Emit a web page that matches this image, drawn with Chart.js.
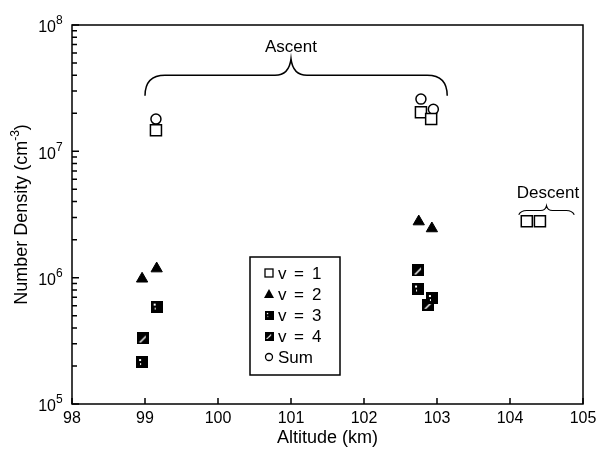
<!DOCTYPE html>
<html>
<head>
<meta charset="utf-8">
<script src="https://cdn.jsdelivr.net/npm/chart.js@4/dist/chart.umd.min.js"></script>
<style>
  html, body { margin: 0; padding: 0; background: #fff; }
</style>
</head>
<body>
<canvas id="grafico" width="615" height="457"></canvas>
<script>
// valores (altitud en km, densidad en cm^-3)
const v1Alt = [99.15, 102.78, 102.92, 104.23, 104.41];
const v1Den = [1.47e7, 2.04e7, 1.8e7, 2.8e6, 2.8e6];
const v2Alt = [98.96, 99.16, 102.75, 102.93];
const v2Den = [9.8e5, 1.18e6, 2.78e6, 2.45e6];
const v3Alt = [99.16, 98.96, 102.74, 102.93];
const v3Den = [5.9e5, 2.15e5, 8.2e5, 6.9e5];
const v4Alt = [98.97, 102.74, 102.88];
const v4Den = [3.3e5, 1.14e6, 6.1e5];
const sumAlt = [99.15, 102.78, 102.95];
const sumDen = [1.8e7, 2.59e7, 2.15e7];

const xTicks = [98, 99, 100, 101, 102, 103, 104, 105];
const yExponents = [5, 6, 7, 8];
const leyenda = [['v', '=', '1'], ['v', '=', '2'], ['v', '=', '3'], ['v', '=', '4'], ['Sum']];

const FUENTE = '"Liberation Sans", Arial, sans-serif';

function puntos(xs, ys) {
  return xs.map((x, i) => ({ x: x, y: ys[i] }));
}

// marcas rellenas para v = 3 y v = 4
function marca(tipo) {
  const c = document.createElement('canvas');
  c.width = 12; c.height = 12;
  const g = c.getContext('2d');
  g.fillStyle = '#000';
  g.fillRect(0, 0, 12, 12);
  g.fillStyle = '#fff';
  if (tipo === 3) {
    g.fillRect(3, 3, 2, 2);
    g.fillRect(4, 7, 1, 2);
  } else {
    g.beginPath();
    g.moveTo(2, 10); g.lineTo(9, 3); g.lineTo(9, 5); g.lineTo(4, 10);
    g.closePath();
    g.fill();
  }
  return c;
}
const img3 = marca(3);
const img4 = marca(4);

const decoracion = {
  id: 'decoracion',
  beforeDatasetsDraw(chart) {
    const { ctx, chartArea: a, scales: { x, y } } = chart;
    ctx.save();
    ctx.strokeStyle = '#000';
    ctx.lineWidth = 1.5;
    ctx.strokeRect(a.left, a.top, a.right - a.left, a.bottom - a.top);

    ctx.beginPath();
    xTicks.forEach(v => {
      const px = x.getPixelForValue(v);
      ctx.moveTo(px, a.bottom);
      ctx.lineTo(px, a.bottom - 6);
    });
    yExponents.forEach(e => {
      for (let m = 1; m < 10; m++) {
        const val = m * Math.pow(10, e);
        if (val > 1e8) break;
        const py = y.getPixelForValue(val);
        ctx.moveTo(a.left, py);
        ctx.lineTo(a.left + (m === 1 ? 7 : 5), py);
      }
    });
    ctx.stroke();

    // etiquetas del eje y
    ctx.fillStyle = '#000';
    ctx.textBaseline = 'middle';
    yExponents.forEach(e => {
      const py = y.getPixelForValue(Math.pow(10, e));
      ctx.font = '16px ' + FUENTE;
      ctx.textAlign = 'right';
      ctx.fillText('10', 56, py + 3);
      ctx.font = '12px ' + FUENTE;
      ctx.textAlign = 'left';
      ctx.fillText(String(e), 56, py - 4);
    });

    // titulos
    ctx.font = '18px ' + FUENTE;
    ctx.textAlign = 'center';
    ctx.fillText('Altitude (km)', (a.left + a.right) / 2, 438);
    ctx.save();
    ctx.translate(22, (a.top + a.bottom) / 2);
    ctx.rotate(-Math.PI / 2);
    const base = 'Number Density (cm';
    ctx.font = '18px ' + FUENTE;
    const w = ctx.measureText(base).width;
    ctx.font = '12px ' + FUENTE;
    const w2 = ctx.measureText('-3').width;
    ctx.font = '18px ' + FUENTE;
    const w3 = ctx.measureText(')').width;
    const x0 = -(w + w2 + w3) / 2;
    ctx.textAlign = 'left';
    ctx.fillText(base, x0, 0);
    ctx.font = '12px ' + FUENTE;
    ctx.fillText('-3', x0 + w, -6);
    ctx.font = '18px ' + FUENTE;
    ctx.fillText(')', x0 + w + w2, 0);
    ctx.restore();
    ctx.restore();
  },
  afterDraw(chart) {
    const { ctx, scales: { x, y } } = chart;
    ctx.save();
    ctx.strokeStyle = '#000';
    ctx.fillStyle = '#000';
    ctx.lineWidth = 1.5;

    // llave de subida
    let L = x.getPixelForValue(99.0), R = x.getPixelForValue(103.14), C = x.getPixelForValue(101.0);
    let yE = y.getPixelForValue(2.75e7), yH = y.getPixelForValue(4.0e7), yT = y.getPixelForValue(5.4e7);
    ctx.beginPath();
    ctx.moveTo(L, yE);
    ctx.quadraticCurveTo(L, yH, L + 20, yH);
    ctx.lineTo(C - 16, yH);
    ctx.quadraticCurveTo(C - 2, yH, C, yT);
    ctx.quadraticCurveTo(C + 2, yH, C + 16, yH);
    ctx.lineTo(R - 20, yH);
    ctx.quadraticCurveTo(R, yH, R, yE);
    ctx.stroke();

    // llave de bajada
    L = x.getPixelForValue(104.12); R = x.getPixelForValue(104.88); C = x.getPixelForValue(104.5);
    yE = y.getPixelForValue(3.15e6); yH = y.getPixelForValue(3.4e6); yT = y.getPixelForValue(3.7e6);
    ctx.lineWidth = 1.2;
    ctx.beginPath();
    ctx.moveTo(L, yE);
    ctx.quadraticCurveTo(L + 2, yH, L + 8, yH);
    ctx.lineTo(C - 6, yH);
    ctx.quadraticCurveTo(C - 1, yH, C, yT);
    ctx.quadraticCurveTo(C + 1, yH, C + 6, yH);
    ctx.lineTo(R - 8, yH);
    ctx.quadraticCurveTo(R - 2, yH, R, yE);
    ctx.stroke();

    ctx.font = '17px ' + FUENTE;
    ctx.textAlign = 'center';
    ctx.textBaseline = 'middle';
    ctx.fillText('Ascent', x.getPixelForValue(101.0), 47);
    ctx.fillText('Descent', x.getPixelForValue(104.52), 193);

    // leyenda
    const bx = 250, by = 257, bw = 90, bh = 118;
    ctx.lineWidth = 1.5;
    ctx.fillStyle = '#fff';
    ctx.fillRect(bx, by, bw, bh);
    ctx.strokeRect(bx, by, bw, bh);
    ctx.fillStyle = '#000';
    ctx.font = '17px ' + FUENTE;
    ctx.textAlign = 'left';
    leyenda.forEach((t, i) => {
      const cy = by + 16 + i * 21;
      const cx = bx + 19;
      ctx.lineWidth = 1.3;
      if (i === 0) {
        ctx.strokeRect(cx - 4, cy - 4, 8, 8);
      } else if (i === 1) {
        ctx.beginPath();
        ctx.moveTo(cx, cy - 5); ctx.lineTo(cx + 5, cy + 4); ctx.lineTo(cx - 5, cy + 4);
        ctx.closePath();
        ctx.fill();
      } else if (i === 2) {
        ctx.drawImage(img3, cx - 4.5, cy - 4.5, 9, 9);
      } else if (i === 3) {
        ctx.drawImage(img4, cx - 4.5, cy - 4.5, 9, 9);
      } else {
        ctx.beginPath();
        ctx.arc(cx, cy, 3.5, 0, Math.PI * 2);
        ctx.stroke();
      }
      if (t.length === 3) {
        ctx.fillText(t[0], bx + 28, cy + 1);
        ctx.fillText(t[1], bx + 44, cy + 1);
        ctx.fillText(t[2], bx + 62, cy + 1);
      } else {
        ctx.fillText(t[0], bx + 28, cy + 1);
      }
    });
    ctx.restore();
  }
};

const ctx = document.getElementById('grafico').getContext('2d');
new Chart(ctx, {
  type: 'scatter',
  data: {
    datasets: [
      { label: 'v = 1', data: puntos(v1Alt, v1Den), pointStyle: 'rect', pointRadius: 7.8,
        borderColor: '#000', backgroundColor: '#fff', borderWidth: 1.5 },
      { label: 'v = 2', data: puntos(v2Alt, v2Den), pointStyle: 'triangle', pointRadius: 6.5,
        borderColor: '#000', backgroundColor: '#000', borderWidth: 1 },
      { label: 'v = 3', data: puntos(v3Alt, v3Den), pointStyle: img3 },
      { label: 'v = 4', data: puntos(v4Alt, v4Den), pointStyle: img4 },
      { label: 'Sum', data: puntos(sumAlt, sumDen), pointStyle: 'circle', pointRadius: 5,
        borderColor: '#000', backgroundColor: '#fff', borderWidth: 1.5 }
    ]
  },
  options: {
    responsive: false,
    animation: false,
    layout: { padding: { top: 25, right: 32, left: 0, bottom: 0 } },
    plugins: {
      legend: { display: false },
      tooltip: { enabled: false }
    },
    scales: {
      x: {
        type: 'linear',
        min: 98,
        max: 105,
        grid: { display: false, drawTicks: false },
        border: { display: false },
        ticks: { stepSize: 1, autoSkip: false, color: '#000', padding: 5,
                 font: { size: 16, family: FUENTE } },
        afterFit: s => { s.height = 53; }
      },
      y: {
        type: 'logarithmic',
        min: 1e5,
        max: 1e8,
        grid: { display: false, drawTicks: false },
        border: { display: false },
        ticks: { display: false },
        afterFit: s => { s.width = 72; }
      }
    }
  },
  plugins: [decoracion]
});
</script>
</body>
</html>
